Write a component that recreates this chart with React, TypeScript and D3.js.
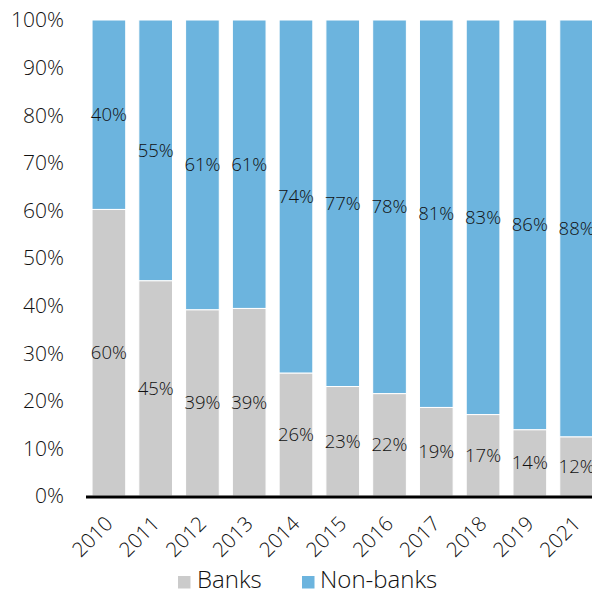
import React from "react";
import * as d3 from "d3";

const years = ["2010","2011","2012","2013","2014","2015","2016","2017","2018","2019","2021"];
const banks = [60.2, 45.2, 39.1, 39.4, 25.8, 23.0, 21.5, 18.6, 17.1, 13.9, 12.4];
const banksLabels = ["60%","45%","39%","39%","26%","23%","22%","19%","17%","14%","12%"];
const nonBanksLabels = ["40%","55%","61%","61%","74%","77%","78%","81%","83%","86%","88%"];
const yTicks = [0,10,20,30,40,50,60,70,80,90,100];
const seriesNames = ["Banks","Non-banks"];
const colors = ["#cbcbcb","#6cb4de"];

const W = 592, H = 591;
const FONT = "'Open Sans', 'Noto Sans', sans-serif";

export default function App() {
  const x = d3.scaleBand<string>().domain(years).range([85.5, 600]).paddingInner(0.28).paddingOuter(0.14);
  const y = d3.scaleLinear().domain([0, 100]).range([496, 20]);
  const bw = x.bandwidth();
  return (
    <svg width={W} height={H} style={{ display: "block", position: "absolute", left: 0, top: 0 }} fontFamily={FONT} fontWeight={300}>
      <rect width={W} height={H} fill="#fff" />
      {yTicks.map((t) => (
        <text key={t} x={64} y={y(t)} dy="0.35em" textAnchor="end" fontSize={21} fill="#111">{t}%</text>
      ))}
      {years.map((yr, i) => {
        const x0 = x(yr)!;
        const b = banks[i];
        return (
          <g key={yr}>
            <rect x={x0} y={y(100)} width={bw} height={y(b) - y(100)} fill={colors[1]} stroke="#fff" strokeWidth={1} />
            <rect x={x0} y={y(b)} width={bw} height={y(0) - y(b)} fill={colors[0]} stroke="#fff" strokeWidth={1} />
          </g>
        );
      })}
      {years.map((yr, i) => {
        const cx = x(yr)! + bw / 2;
        const b = banks[i];
        return (
          <g key={"l" + yr} fontSize={18.5} fill="#111" textAnchor="middle">
            <text x={cx} y={(y(b) + y(0)) / 2} dy="0.35em">{banksLabels[i]}</text>
            <text x={cx} y={(y(100) + y(b)) / 2} dy="0.35em">{nonBanksLabels[i]}</text>
          </g>
        );
      })}
      <line x1={86} x2={W} y1={497} y2={497} stroke="#000" strokeWidth={3} />
      {years.map((yr) => {
        const cx = x(yr)! + bw / 2;
        return (
          <text key={"x" + yr} transform={`translate(${cx},${520}) rotate(-45)`} textAnchor="end" dy="0.35em" fontSize={20.5} fill="#111">{yr}</text>
        );
      })}
      <g>
        <rect x={178} y={576} width={12.5} height={12.5} fill={colors[0]} />
        <text x={197} y={588} fontSize={24} fill="#111">{seriesNames[0]}</text>
        <rect x={302} y={576} width={12.5} height={12.5} fill={colors[1]} />
        <text x={320} y={588} fontSize={24} fill="#111">{seriesNames[1]}</text>
      </g>
    </svg>
  );
}
